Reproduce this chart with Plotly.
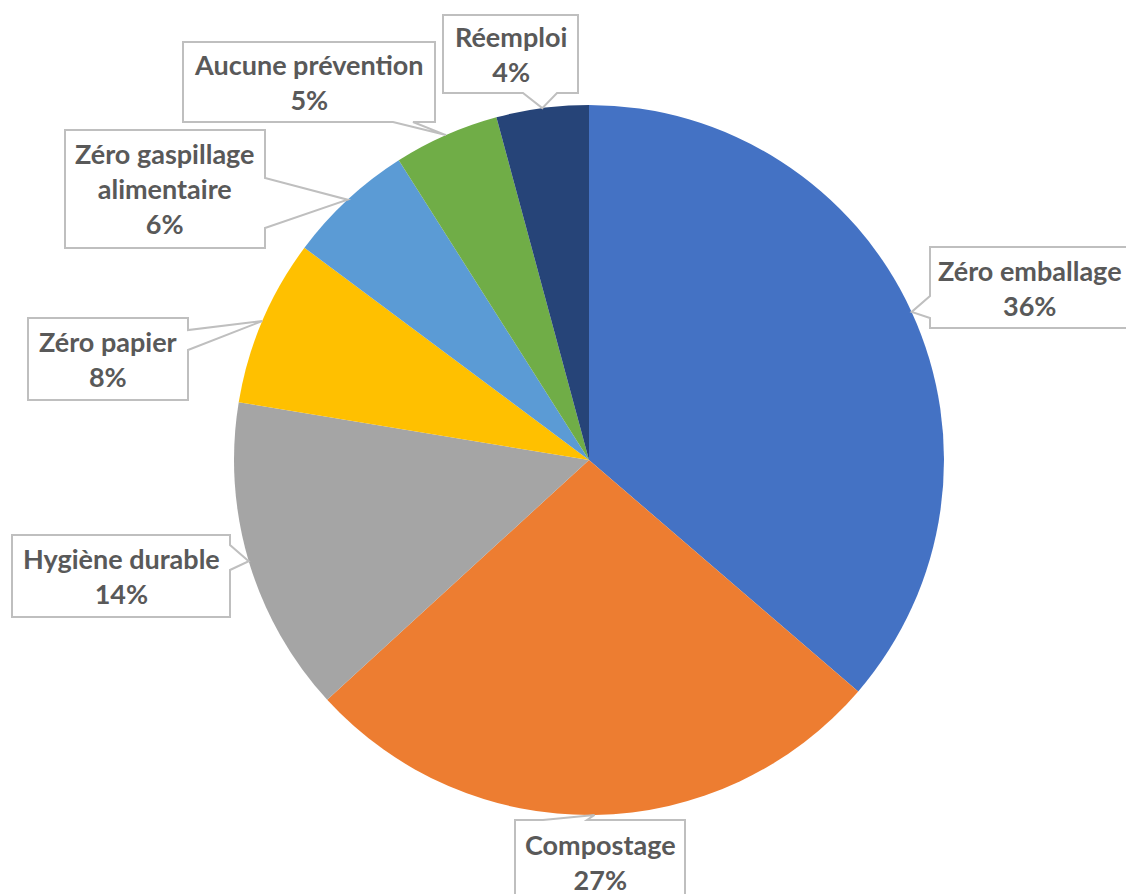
import math
import plotly.graph_objects as go

# ---- data ----
labels = ["Zéro emballage", "Compostage", "Hygiène durable", "Zéro papier",
          "Zéro gaspillage<br>alimentaire", "Aucune prévention", "Réemploi"]
values = [36.3, 26.9, 14.4, 7.6, 5.8, 4.8, 4.2]
colors = ["#4472C4", "#ED7D31", "#A5A5A5", "#FFC000", "#5B9BD5", "#70AD47", "#264478"]

# ---- layout (pixels, in screen coords) ----
W, H = 1134, 894
OFF = 8  # page body margin
CX, CY, R = 589, 460, 355

# callout boxes: x0, y0, x1, y1, side of pointer, pointer base start, end
boxes = [
    (930, 247, 1145, 328, "left", 296, 318),
    (515, 820, 685, 905, "top", 543, 587),
    (12, 535, 230, 617, "right", 545, 570),
    (28, 318, 188, 400, "right", 330, 350),
    (65, 130, 265, 248, "right", 178, 228),
    (183, 42, 435, 122, "bottom", 393, 413),
    (443, 15, 578, 93, "bottom", 523, 557),
]


def px(x):
    return (x - OFF) / W


def py(y):
    return 1 - (y - OFF) / H


fig = go.Figure(go.Pie(
    labels=labels, values=values, sort=False, direction="clockwise", rotation=0,
    marker=dict(colors=colors, line=dict(width=0)),
    textinfo="none", hoverinfo="label+percent", showlegend=False,
    domain=dict(x=[px(CX - R), px(CX + R)], y=[py(CY + R), py(CY - R)]),
))

total = sum(values)
cum = 0
shapes = []
annotations = []
for lab, v, b in zip(labels, values, boxes):
    th = 2 * math.pi * (cum + v / 2) / total
    cum += v
    tx, ty = CX + R * math.sin(th), CY - R * math.cos(th)
    x0, y0, x1, y1, side, a, c = b
    if side == "left":
        pts = [(x0, y0), (x1, y0), (x1, y1), (x0, y1), (x0, c), (tx, ty), (x0, a)]
    elif side == "right":
        pts = [(x0, y0), (x1, y0), (x1, a), (tx, ty), (x1, c), (x1, y1), (x0, y1)]
    elif side == "top":
        pts = [(x0, y0), (a, y0), (tx, ty), (c, y0), (x1, y0), (x1, y1), (x0, y1)]
    else:
        pts = [(x0, y0), (x1, y0), (x1, y1), (c, y1), (tx, ty), (a, y1), (x0, y1)]
    path = "M " + " L ".join(f"{px(x):.5f},{py(y):.5f}" for x, y in pts) + " Z"
    shapes.append(dict(type="path", xref="paper", yref="paper", path=path,
                       fillcolor="white", line=dict(color="#BFBFBF", width=2)))
    cxm = (x0 + 1130) / 2 if side == "left" else (x0 + x1) / 2
    if side == "top":
        cym = y0 + 42
    else:
        cym = (y0 + y1) / 2
    annotations.append(dict(
        x=px(cxm), y=py(cym), xref="paper", yref="paper", showarrow=False,
        text=f"{lab}<br>{round(v)}%", align="center",
        xanchor="center", yanchor="middle",
        font=dict(family="Lato", size=27, color="#595959", weight="bold"),
    ))

fig.update_layout(
    width=W, height=H, margin=dict(l=0, r=0, t=0, b=0),
    paper_bgcolor="white", plot_bgcolor="white",
    shapes=shapes, annotations=annotations,
)
fig.write_html("out.html")
